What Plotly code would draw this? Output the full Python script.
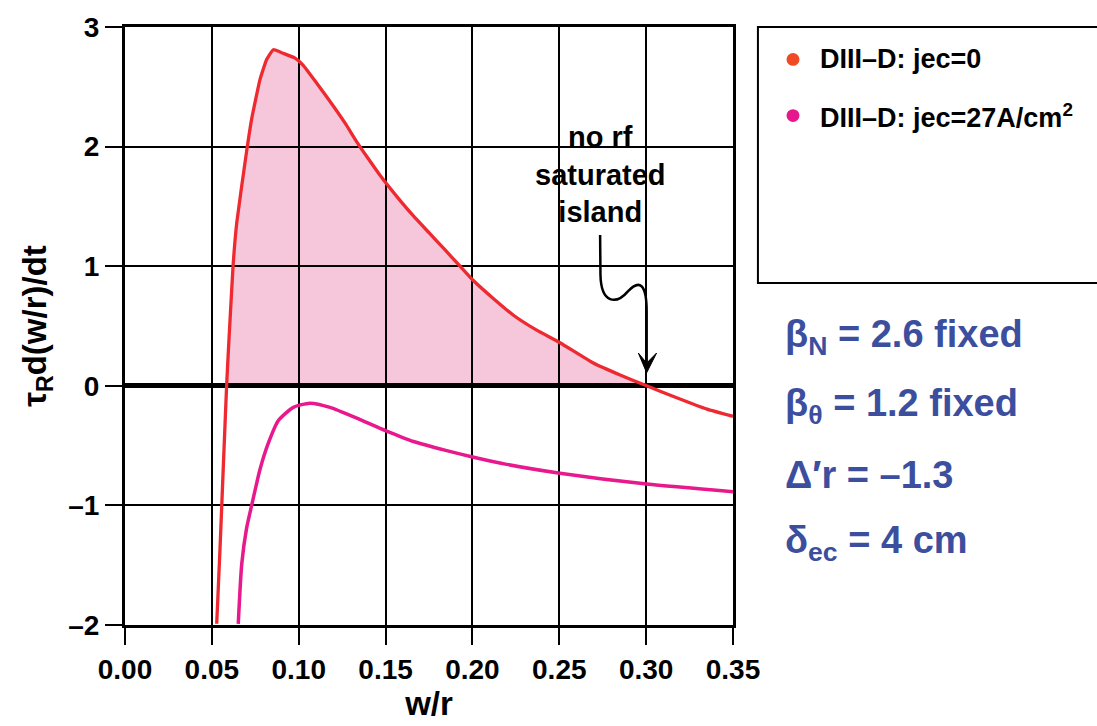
import plotly.graph_objects as go

# Island growth rate vs island width, two ECCD cases
red_x = [0.0528, 0.0547, 0.0557, 0.0570, 0.0585, 0.0595, 0.0622, 0.0643, 0.0700, 0.0729,
         0.0777, 0.0816, 0.0854, 0.0911, 0.0979, 0.1026, 0.1104, 0.1199, 0.1270, 0.1334,
         0.1400, 0.1468, 0.1583, 0.1660, 0.1750, 0.1840, 0.1929, 0.2005, 0.2120, 0.2236,
         0.2370, 0.2504, 0.2696, 0.2850, 0.3003, 0.3150, 0.3350, 0.3500]
red_y = [-1.99, -1.36, -1.00, -0.53, 0.00, 0.29, 1.00, 1.36, 1.96, 2.23,
         2.56, 2.73, 2.81, 2.78, 2.74, 2.68, 2.53, 2.34, 2.19, 2.04,
         1.90, 1.76, 1.55, 1.42, 1.28, 1.14, 1.00, 0.88, 0.73, 0.59,
         0.465, 0.36, 0.19, 0.09, 0.00, -0.085, -0.195, -0.255]

mag_x = [0.0652, 0.0672, 0.0700, 0.0729, 0.0777, 0.0825, 0.0883, 0.0969, 0.1065, 0.1180,
         0.1334, 0.1500, 0.1660, 0.1852, 0.2001, 0.2197, 0.2504, 0.3003, 0.3500]
mag_y = [-1.99, -1.49, -1.19, -1.00, -0.70, -0.48, -0.29, -0.18, -0.145, -0.18,
         -0.27, -0.375, -0.466, -0.542, -0.595, -0.657, -0.731, -0.822, -0.885]

x_ticks = [0.00, 0.05, 0.10, 0.15, 0.20, 0.25, 0.30, 0.35]
y_ticks = [-2, -1, 0, 1, 2, 3]
y_tick_text = ["–2", "–1", "0", "1", "2", "3"]

series_names = ["DIII–D: jec=0", "DIII–D: jec=27A/cm<sup>2</sup>"]
legend_colors = ["#F04A24", "#E8168C"]
params = ["β<sub>N</sub> = 2.6 fixed", "β<sub>θ</sub> = 1.2 fixed",
          "Δ′r = –1.3", "δ<sub>ec</sub> = 4 cm"]

FONT = "Liberation Sans Narrow, Liberation Sans, Arial Narrow, Arial, sans-serif"
RED = "#EE2A30"
MAG = "#E8198C"
BLUE = "#3C4E9E"

fig = go.Figure()

fig.add_trace(go.Scatter(x=red_x, y=red_y, mode="lines", line_shape="spline",
                         line=dict(color=RED, width=3.3, smoothing=0.4), showlegend=False))
fig.add_trace(go.Scatter(x=mag_x, y=mag_y, mode="lines", line_shape="spline",
                         line=dict(color=MAG, width=3.5, smoothing=0.6), showlegend=False))

# pink area where growth rate is positive (below the grid)
pos = [(x, y) for x, y in zip(red_x, red_y) if y >= 0]
path = f"M {pos[0][0]} 0 " + " ".join(f"L {x} {y}" for x, y in pos) + f" L {pos[-1][0]} 0 Z"
fig.add_shape(type="path", path=path, xref="x", yref="y", layer="below",
              fillcolor="rgb(246,198,218)", line=dict(width=0))

# wavy arrow pointing at the saturated island width
fig.add_shape(type="path", xref="x", yref="y", layer="above",
              path="M 0.2735 1.26 L 0.2737 0.93 C 0.2740 0.68, 0.2830 0.68, 0.2895 0.79 "
                   "C 0.2960 0.89, 0.3003 0.86, 0.3003 0.62 L 0.3003 0.20",
              line=dict(color="black", width=2.5))
fig.add_shape(type="path", xref="x", yref="y", layer="above",
              path="M 0.2955 0.274 L 0.3003 0.109 L 0.3060 0.274 L 0.3003 0.19 Z",
              fillcolor="black", line=dict(color="black", width=1))
fig.add_annotation(x=0.2735, y=1.30, xref="x", yref="y", yanchor="bottom",
                   text="no rf<br>saturated<br>island", showarrow=False,
                   font=dict(family=FONT, size=29, color="black", weight="bold"),
                   align="center")

# legend box
fig.add_shape(type="rect", xref="paper", yref="paper", x0=1.041, x1=1.62, y0=0.572, y1=1.0,
              line=dict(color="black", width=2), fillcolor="white")
for i, (name, col) in enumerate(zip(series_names, legend_colors)):
    yp = (628 - (53 + 57 * i)) / 608
    xp = (793 - 125) / 608
    r = 6.5 / 608
    fig.add_shape(type="circle", xref="paper", yref="paper",
                  x0=xp - r, x1=xp + r, y0=yp - r, y1=yp + r,
                  fillcolor=col, line=dict(width=0))
    fig.add_annotation(x=(818 - 125) / 608, y=yp, xref="paper", yref="paper",
                       xanchor="left", yanchor="middle", text=name, showarrow=False,
                       font=dict(family=FONT, size=27, color="black", weight="bold"))

# fixed parameters
for i, t in enumerate(params):
    yp = (628 - (335 + 70 * i)) / 608
    fig.add_annotation(x=(783 - 125) / 608, y=yp, xref="paper", yref="paper",
                       xanchor="left", yanchor="middle", text=t, showarrow=False,
                       font=dict(family=FONT, size=38, color=BLUE, weight="bold"))

axis_common = dict(showgrid=True, gridcolor="black", gridwidth=1.5,
                   showline=True, linecolor="black", linewidth=3, mirror=True,
                   ticks="outside", ticklen=17, tickwidth=1.5, tickcolor="black",
                   tickfont=dict(family=FONT, size=28, color="black", weight="bold"))

fig.update_xaxes(range=[0, 0.35], tickvals=x_ticks, tickformat=".2f", zeroline=False,
                 title=dict(text="w/r", standoff=6,
                            font=dict(family=FONT, size=33, color="black", weight="bold")),
                 **axis_common)
fig.update_yaxes(range=[-2, 3], tickvals=y_ticks, ticktext=y_tick_text,
                 zeroline=True, zerolinecolor="black", zerolinewidth=5,
                 title=dict(text="τ<sub>R</sub>d(w/r)/dt", standoff=12,
                            font=dict(family=FONT, size=33, color="black", weight="bold")),
                 **axis_common)

fig.update_layout(width=1097, height=726,
                  margin=dict(l=125, r=364, t=20, b=98),
                  plot_bgcolor="white", paper_bgcolor="white",
                  showlegend=False)

fig.write_html("out.html")
